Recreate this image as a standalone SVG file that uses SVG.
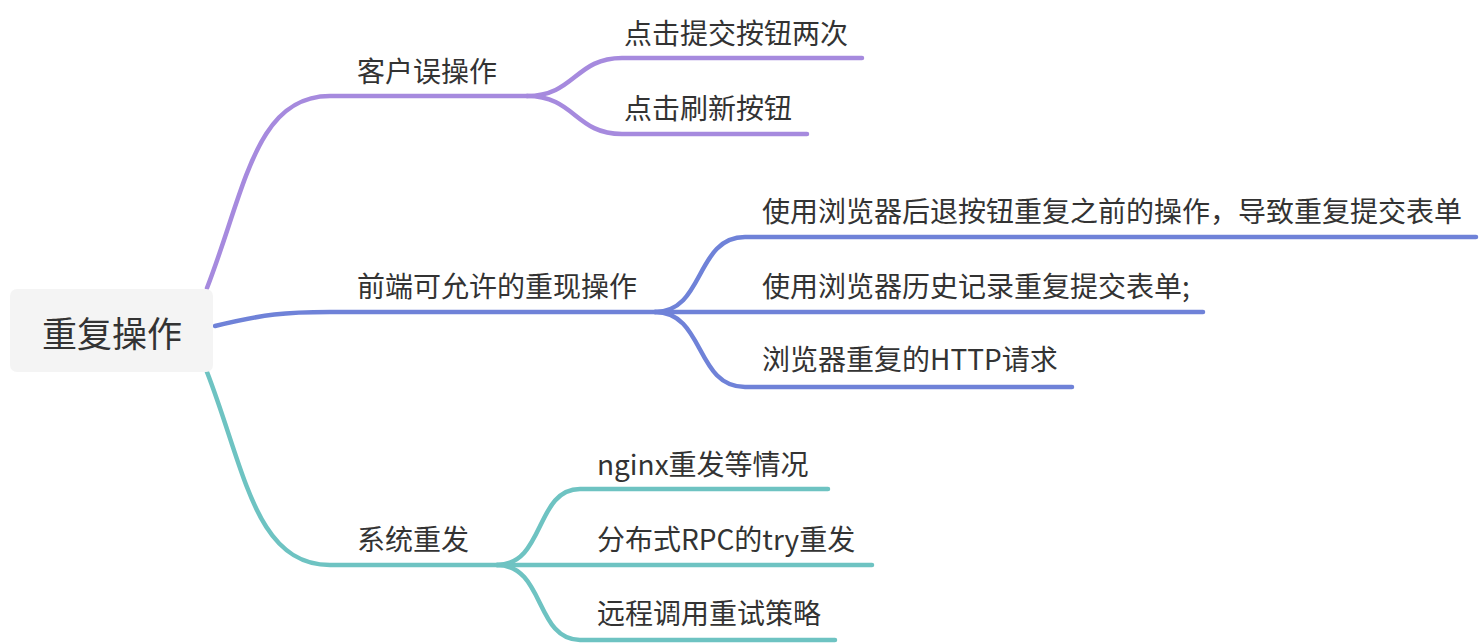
<svg xmlns="http://www.w3.org/2000/svg" width="1484" height="644" viewBox="0 0 1484 644">
<style>
text{font-family:"Noto Sans CJK SC","Microsoft YaHei",sans-serif;fill:#333;font-size:28px;dominant-baseline:central}
.l{fill:none;stroke-width:4.5;stroke-linecap:round}
.p{stroke:#a68ade}.b{stroke:#6f82d8}.t{stroke:#6ec3c2}
</style>
<rect width="1484" height="644" fill="#fff"/>
<g id="connectors">
<path class="l p" d="M207,288 C245,190 255,96 330,96 L527,96"/>
<path class="l p" d="M527,96 C575,96 575,58 622,58 L862,58"/>
<path class="l p" d="M527,96 C575,96 575,134 622,134 L807,134"/>
<path class="l b" d="M215,326 C265,314 285,312 330,312 L655,312"/>
<path class="l b" d="M655,312 C705,312 695,237 745,237 L1476,237"/>
<path class="l b" d="M655,312 L1203,312"/>
<path class="l b" d="M655,312 C705,312 695,387 745,387 L1072,387"/>
<path class="l t" d="M207,372 C245,470 255,565 330,565 L497,565"/>
<path class="l t" d="M497,565 C545,565 535,489 580,489 L828,489"/>
<path class="l t" d="M497,565 L872,565"/>
<path class="l t" d="M497,565 C545,565 535,640 580,640 L835,640"/>
</g>
<g id="root">
<rect x="10" y="289" width="203" height="83" rx="7" fill="#f4f4f4"/>
<text x="112" y="331" text-anchor="middle" style="font-size:35px">重复操作</text>
</g>
<g id="n1"><text x="357" y="70">客户误操作</text></g>
<g id="n1a"><text x="624" y="32">点击提交按钮两次</text></g>
<g id="n1b"><text x="624" y="107">点击刷新按钮</text></g>
<g id="n2"><text x="357" y="285">前端可允许的重现操作</text></g>
<g id="n2a"><text x="762" y="210">使用浏览器后退按钮重复之前的操作，导致重复提交表单</text></g>
<g id="n2b"><text x="762" y="285">使用浏览器历史记录重复提交表单;</text></g>
<g id="n2c"><text x="762" y="358">浏览器重复的HTTP请求</text></g>
<g id="n3"><text x="357" y="538">系统重发</text></g>
<g id="n3a"><text x="597" y="463">nginx重发等情况</text></g>
<g id="n3b"><text x="597" y="538">分布式RPC的try重发</text></g>
<g id="n3c"><text x="597" y="612">远程调用重试策略</text></g>
</svg>
